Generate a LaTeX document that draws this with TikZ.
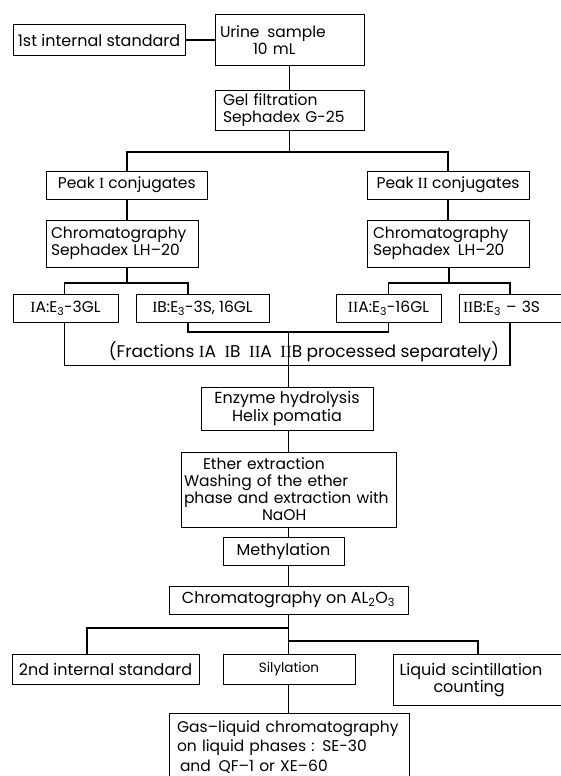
\documentclass[tikz,border=0pt]{standalone}
\usepackage{fontspec}
\setmainfont{Poppins}
\newfontfamily\numfont{Liberation Serif}
\newcommand{\RI}{{\numfont I}}
\newcommand{\RII}{{\numfont II}}
\newcommand{\sbs}[1]{\textsubscript{#1}}
\begin{document}
\begin{tikzpicture}[x=1pt,y=-1pt,
  every node/.style={font=\fontsize{15.5}{17}\selectfont},
  box/.style={draw,line width=0.9pt,inner sep=0pt,align=center},
  conn/.style={line width=1.6pt}]
\useasboundingbox (0,0) rectangle (561,776);
\clip (0,0) rectangle (561,776);
\fill[white] (0,0) rectangle (561,776);
% boxes
\node[box,minimum width=172pt,minimum height=30.5pt,font=\fontsize{16}{18}\selectfont] (std1) at (99,40) {1st internal standard};
\node[box,minimum width=149pt,minimum height=51.5pt,inner xsep=5pt,text width=139pt,align=left] (urine) at (289.5,39.75) {Urine\enspace sample\\\hspace*{33pt}10 mL};
\node[box,minimum width=149pt,minimum height=39.5pt,inner xsep=8pt,text width=133pt,align=left] (gel) at (289.5,110.25) {Gel filtration\\Sephadex G-25};
\node[box,minimum width=160.5pt,minimum height=28pt] (peak1) at (126.75,185) {Peak \RI\ conjugates};
\node[box,minimum width=162pt,minimum height=28pt] (peak2) at (448,185) {Peak \RII\ conjugates};
\node[box,minimum width=152pt,minimum height=47pt,inner xsep=5pt,text width=142pt,align=left] (chrom1) at (122,243.5) {Chromatography\\Sephadex LH–20};
\node[box,minimum width=162pt,minimum height=47pt,inner xsep=6pt,text width=150pt,align=left] (chrom2) at (448,243.5) {Chromatography\\Sephadex\enspace LH–20};
\node[box,minimum width=105pt,minimum height=27.5pt] (IA) at (65.5,308.3) {\RI A:E\sbs{3}-3GL};
\node[box,minimum width=133pt,minimum height=27.5pt] (IB) at (202.5,308.3) {\RI B:E\sbs{3}-3S, 16GL};
\node[box,minimum width=105pt,minimum height=27.5pt] (IIA) at (388.5,308.3) {\RII A:E\sbs{3}-16GL};
\node[box,minimum width=116pt,minimum height=27.5pt,inner xsep=4pt,text width=108pt,align=left] (IIB) at (517,308.3) {\RII B:E\sbs{3} – 3S};
\node[box,minimum width=172pt,minimum height=43pt,font=\fontsize{16}{17.5}\selectfont] (enz) at (287,408.5) {Enzyme hydrolysis\\Helix pomatia};
\node[box,minimum width=215pt,minimum height=75pt,inner xsep=3pt,text width=209pt,align=left] (ether) at (288.5,489.5) {\hspace*{19pt}Ether extraction\\Washing of the ether\\phase and extraction with\\\hspace*{78pt}NaOH};
\node[box,minimum width=121pt,minimum height=28pt,font=\fontsize{16}{17}\selectfont] (meth) at (283.5,551) {Methylation};
\node[box,minimum width=239pt,minimum height=28pt,font=\fontsize{16}{17}\selectfont] (al) at (288.5,600) {Chromatography on AL\sbs{2}O\sbs{3}};
\node[box,minimum width=187pt,minimum height=30pt,font=\fontsize{16}{18}\selectfont] (std2) at (105.5,669) {2nd internal standard};
\node[box,minimum width=132pt,minimum height=30pt,font=\fontsize{13.5}{15}\selectfont] (sil) at (289,669) {Silylation};
\node[box,minimum width=181pt,minimum height=51.5pt,inner xsep=6pt,text width=169pt,align=left,font=\fontsize{16}{17}\selectfont] (liq) at (484,680) {Liquid scintillation\\\hspace*{34pt}counting};
\node[box,minimum width=240pt,minimum height=68pt,inner xsep=4pt,text width=232pt,align=left,font=\fontsize{15.5}{19.5}\selectfont] (glc) at (289,747) {\mbox{\hspace*{4pt}Gas–liquid chromatography}\\\mbox{\hspace*{4pt}on liquid phases : SE-30}\\\mbox{\hspace*{7pt}and\enspace QF–1 or XE–60}};
% junction coordinates
\coordinate (bl) at (126.75,152);
\coordinate (br) at (448,152);
\coordinate (c1) at (127,283);
\coordinate (j1a) at (64.5,283);
\coordinate (j1b) at (188,283);
\coordinate (c2) at (449,283);
\coordinate (j2a) at (388.5,283);
\coordinate (j2b) at (510,283);
\coordinate (m1) at (188,332);
\coordinate (m2) at (388.5,332);
\coordinate (mc) at (288.5,332);
\coordinate (o1) at (64.5,365.5);
\coordinate (o2) at (510,365.5);
\coordinate (sl) at (87,628);
\coordinate (sr) at (478,641);
% connectors
\draw[conn] (std1.east) -- (std1.east -| urine.west);
\draw[conn] (urine.south) -- (gel.north);
\draw[conn] (gel.south) -- (gel.south |- bl);
\draw[conn] (peak1.north) -- (bl) -- (br) -- (peak2.north);
\draw[conn] (peak1.south) -- (peak1.south |- chrom1.north);
\draw[conn] (peak2.south) -- (peak2.south |- chrom2.north);
\draw[conn] (chrom1.south -| c1) -- (c1);
\draw[conn] (IA.north -| j1a) |- (j1b) -- (IB.north -| j1b);
\draw[conn] (chrom2.south -| c2) -- (c2);
\draw[conn] (IIA.north -| j2a) |- (j2b) -- (IIB.north -| j2b);
\draw[conn] (IB.south -| m1) -- (m1) -- (m2) -- (IIA.south -| m2);
\draw[conn] (IA.south -| o1) -- (o1) -- (o2) -- (IIB.south -| o2);
\draw[conn] (mc) -- (mc |- enz.north);
\node[font=\fontsize{17}{18}\selectfont] (frac) at (304,352) {(Fractions \RI A\enspace\RI B\enspace\RII A\enspace\RII B processed separately)};
\draw[conn] (enz.south -| mc) -- (mc |- ether.north);
\draw[conn] (ether.south -| mc) -- (mc |- meth.north);
\draw[conn] (meth.south -| mc) -- (mc |- al.north);
\draw[conn] (al.south -| mc) -- (mc |- sil.north);
\draw[conn] (mc |- sl) -- (sl) -- (std2.north -| sl);
\draw[conn] (mc |- sr) -- (sr) -- (liq.north -| sr);
\draw[conn] (sil.south -| mc) -- (mc |- glc.north);
\end{tikzpicture}
\end{document}
